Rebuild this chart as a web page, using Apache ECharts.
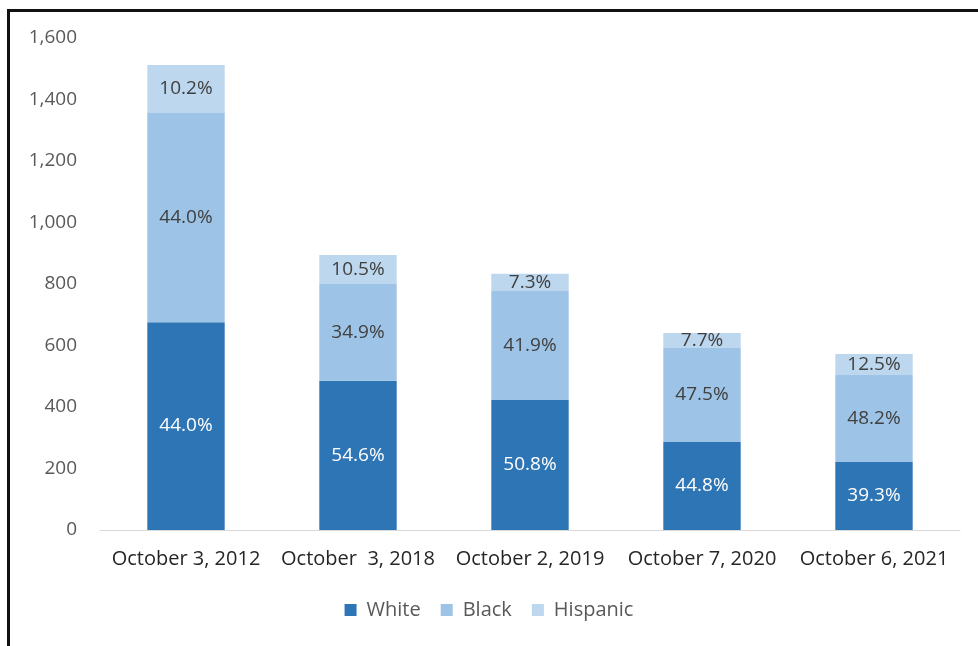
<!DOCTYPE html>
<html><head><meta charset="utf-8">
<script src="https://cdn.jsdelivr.net/npm/echarts@6/dist/echarts.min.js"></script>
<style>html,body{margin:0;padding:0;background:#fff}#c{width:978px;height:646px}</style>
</head><body><div id="c"></div>
<script>
const categories = ['October 3, 2012', 'October  3, 2018', 'October 2, 2019', 'October 7, 2020', 'October 6, 2021'];
const whiteVals = [676, 485, 423, 286, 221];
const blackVals = [680, 315, 354, 306, 283];
const hispanicVals = [156, 94, 56, 49, 68];
const whitePct = ['44.0%', '54.6%', '50.8%', '44.8%', '39.3%'];
const blackPct = ['44.0%', '34.9%', '41.9%', '47.5%', '48.2%'];
const hispanicPct = ['10.2%', '10.5%', '7.3%', '7.7%', '12.5%'];
const yTicks = [0, 200, 400, 600, 800, 1000, 1200, 1400, 1600];

const FONT = 'Open Sans';
function mk(name, vals, pct, color, labelColor) {
  return {
    name, type: 'bar', stack: 'total', data: vals, barWidth: '45%',
    itemStyle: { color },
    label: { show: true, position: 'inside', formatter: p => pct[p.dataIndex],
      color: labelColor, fontFamily: FONT, fontSize: 19 }
  };
}
const chart = echarts.init(document.getElementById('c'));
chart.setOption({
  animation: false,
  backgroundColor: '#fff',
  graphic: [{ type: 'rect', shape: { x: 8.5, y: 10.5, width: 1200, height: 1000 },
    style: { fill: 'none', stroke: '#111', lineWidth: 3 }, z: 100 }],
  grid: { left: 100, right: 18, top: 38, bottom: 116 },
  legend: { bottom: 21, left: 'center', itemWidth: 12, itemHeight: 12, itemGap: 20,
    icon: 'rect', textStyle: { color: '#595959', fontFamily: FONT, fontSize: 20, padding: [0, 0, 0, 5] },
    data: ['White', 'Black', 'Hispanic'] },
  xAxis: { type: 'category', data: categories,
    axisLine: { lineStyle: { color: '#d9d9d9', width: 1 } }, axisTick: { show: false },
    axisLabel: { color: '#262626', fontFamily: FONT, fontSize: 20, margin: 19, interval: 0 } },
  yAxis: { type: 'value', min: 0, max: 1600, interval: 200,
    splitLine: { show: false }, axisLine: { show: false }, axisTick: { show: false },
    axisLabel: { color: '#595959', fontFamily: FONT, fontSize: 19, margin: 23,
      formatter: v => v.toLocaleString('en-US') } },
  series: [
    mk('White', whiteVals, whitePct, '#2E75B6', '#ffffff'),
    mk('Black', blackVals, blackPct, '#9DC3E6', '#404040'),
    mk('Hispanic', hispanicVals, hispanicPct, '#BDD7EE', '#404040')
  ]
});
</script></body></html>
